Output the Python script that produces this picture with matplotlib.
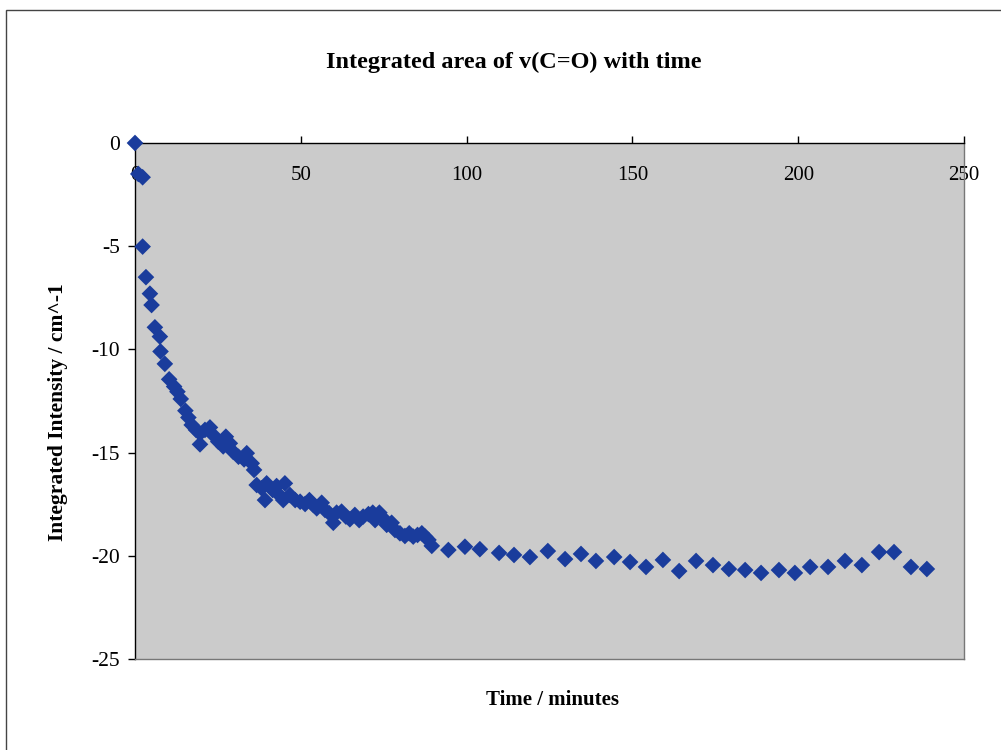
import matplotlib
matplotlib.use("Agg")
import matplotlib.pyplot as plt
from matplotlib.patches import Rectangle

plt.rcParams['font.family'] = ['Liberation Serif', 'DejaVu Serif']

title = "Integrated area of v(C=O) with time"
xlabel = "Time / minutes"
ylabel = "Integrated Intensity / cm^-1"
xticks = [0, 50, 100, 150, 200, 250]
yticks = [0, -5, -10, -15, -20, -25]

time_min = [0, 1.0, 2.3, 2.3, 3.3, 4.5, 5.0, 6.0, 7.5, 7.7, 9.0, 10.3, 11.8, 12.8, 13.8,
            15.2, 16.1, 17.1, 18.4, 19.6, 19.6, 21.1, 22.6, 23.6, 25.1, 26.6, 27.4,
            28.6, 29.6, 31.2, 32.9, 33.7, 35.2, 35.9, 36.7, 38.2, 39.2, 39.7, 41.5,
            42.7, 43.5, 45.2, 44.7, 46.7, 48.3, 49.8, 51.3, 52.6, 53.8, 54.8, 56.3,
            57.3, 58.6, 59.8, 60.8, 62.3, 63.6, 64.8, 66.3, 67.6, 68.8, 70.4, 71.7,
            72.4, 73.7, 74.9, 75.9, 77.4, 78.4, 79.9, 81.4, 82.7, 83.9, 85.2, 86.5,
            87.5, 88.5, 89.5, 94.5, 99.5, 104.0, 109.8, 114.3, 119.1, 124.5, 129.7,
            134.5, 139.0, 144.5, 149.3, 154.1, 159.2, 164.1, 169.2, 174.3, 179.1,
            184.0, 188.8, 194.2, 199.0, 203.6, 209.0, 214.1, 219.2, 224.4, 228.9,
            234.0, 238.8]
intensity = [0, -1.5, -1.66, -5.02, -6.5, -7.3, -7.85, -8.93, -9.38, -10.1, -10.7,
             -11.45, -11.8, -12.05, -12.4, -12.97, -13.3, -13.66, -13.9, -14.07,
             -14.6, -13.9, -13.78, -14.15, -14.47, -14.7, -14.23, -14.55, -14.96,
             -15.2, -15.33, -15.03, -15.52, -15.84, -16.57, -16.73, -17.3, -16.49,
             -16.81, -16.62, -17.05, -16.49, -17.3, -17.05, -17.3, -17.38, -17.49,
             -17.3, -17.54, -17.7, -17.43, -17.78, -17.94, -18.4, -17.91, -17.86,
             -18.1, -18.23, -18.02, -18.27, -18.1, -17.98, -17.91, -18.27, -17.91,
             -18.19, -18.5, -18.4, -18.75, -18.91, -19.04, -18.91, -19.07, -18.99,
             -18.91, -19.07, -19.23, -19.52, -19.72, -19.56, -19.68, -19.86, -19.96,
             -20.06, -19.77, -20.16, -19.91, -20.25, -20.06, -20.3, -20.54, -20.2,
             -20.74, -20.25, -20.45, -20.64, -20.69, -20.83, -20.69, -20.83, -20.54,
             -20.54, -20.25, -20.45, -19.82, -19.82, -20.54, -20.64]

fig = plt.figure(figsize=(10.01, 7.5), dpi=100)
fig.patch.set_facecolor('white')

# outer chart border (extends past the image on the right and bottom)
fig.add_artist(Rectangle((6 / 1001, -0.1), 1.2, 0.1 + (750 - 10) / 750,
                         transform=fig.transFigure, fill=False,
                         edgecolor='#444444', linewidth=1.0))

ax = fig.add_axes([135 / 1001, 1 - 659 / 750, 829 / 1001, 516 / 750])
ax.set_facecolor('#cbcbcb')

ax.scatter(time_min, intensity, marker='D', s=72, color='#1a3c9c',
           edgecolors='none', zorder=3, clip_on=False)

ax.set_xlim(0, 250)
ax.set_ylim(-25, 0)
ax.set_xticks(xticks)
ax.set_yticks(yticks)
ax.set_yticklabels([str(v) for v in yticks], fontsize=15.5)
ax.set_xticklabels([str(v) for v in xticks], fontsize=15)

ax.xaxis.tick_top()
ax.tick_params(axis='x', direction='out', length=5, width=1, color='black',
               pad=-35)
ax.tick_params(axis='y', direction='out', length=5, width=1, color='black',
               pad=6)

for side in ['left', 'top']:
    ax.spines[side].set_color('black')
    ax.spines[side].set_linewidth(1.0)
for side in ['right', 'bottom']:
    ax.spines[side].set_color('#777777')
    ax.spines[side].set_linewidth(1.0)

fig.text(514 / 1001, 1 - 62 / 750, title, ha='center', va='center',
         fontsize=17.5, fontweight='bold')
fig.text(552 / 1001, 1 - 700 / 750, xlabel, ha='center', va='center',
         fontsize=15, fontweight='bold')
fig.text(58 / 1001, 1 - 412 / 750, ylabel, ha='center', va='center',
         rotation=90, fontsize=15.5, fontweight='bold')

fig.savefig('out.png', dpi=100, facecolor='white')
